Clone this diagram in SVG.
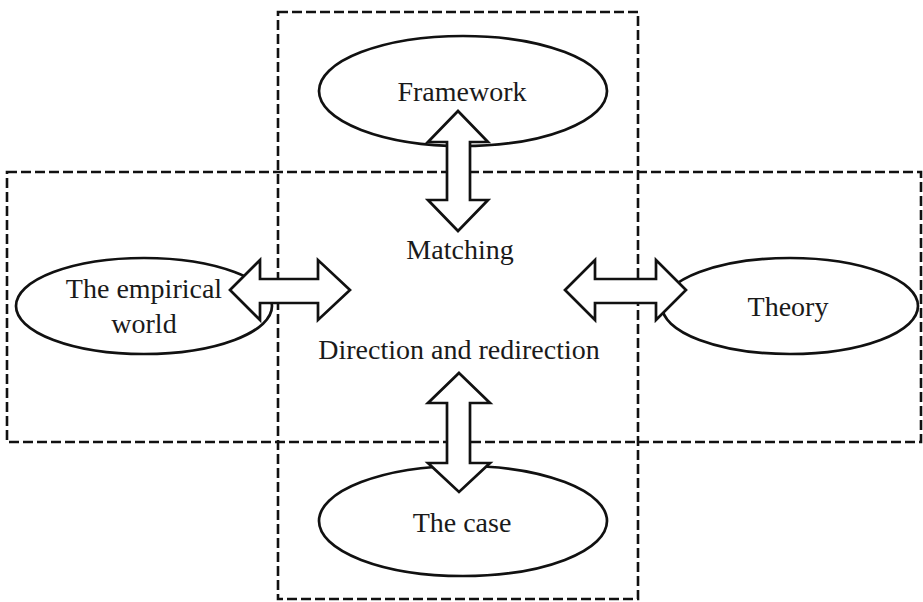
<svg xmlns="http://www.w3.org/2000/svg" width="923" height="602" viewBox="0 0 923 602">
  <style>
    .frame { fill: none; stroke: #111; stroke-width: 2.6; stroke-dasharray: 10 4; }
    .node { fill: #fff; stroke: #111; stroke-width: 2.7; }
    .arrow { fill: #fff; stroke: #111; stroke-width: 2.7; stroke-linejoin: miter; }
    .label { font-family: "Liberation Serif", "Times New Roman", serif; font-size: 28px; fill: #1a1a1a; text-anchor: middle; }
  </style>
  <rect width="923" height="602" fill="#fff"/>

  <!-- dashed frames: vertical and horizontal bands -->
  <g id="frames">
    <rect class="frame" x="278" y="12" width="360" height="587"/>
    <rect class="frame" x="7" y="172" width="914" height="270"/>
  </g>

  <!-- centre labels -->
  <g id="centre">
    <text class="label" x="460" y="259">Matching</text>
    <text class="label" x="459" y="359">Direction and redirection</text>
  </g>

  <g id="framework">
    <ellipse class="node" cx="463" cy="91" rx="144" ry="55"/>
    <text class="label" x="462" y="101">Framework</text>
  </g>

  <g id="case">
    <ellipse class="node" cx="463" cy="521" rx="144" ry="55"/>
    <text class="label" x="462" y="532">The case</text>
  </g>

  <g id="empirical">
    <ellipse class="node" cx="144" cy="306" rx="128" ry="48"/>
    <text class="label" x="144" y="298">The empirical</text>
    <text class="label" x="144" y="333">world</text>
  </g>

  <g id="theory">
    <ellipse class="node" cx="790" cy="306" rx="128" ry="48"/>
    <text class="label" x="788" y="316">Theory</text>
  </g>

  <!-- double-headed block arrows -->
  <g id="connectors">
    <polygon class="arrow" points="458,111 488,142 470,142 470,200 488,200 458,231 428,200 447,200 447,142 428,142"/>
    <polygon class="arrow" points="459,373 490,403 470,403 470,463 490,463 459,492 428,463 447,463 447,403 428,403"/>
    <polygon class="arrow" points="230,290 260,260 260,279 318,279 318,260 350,290 318,320 318,303 260,303 260,320"/>
    <polygon class="arrow" points="565,290 595,260 595,279 656,279 656,260 686,290 656,320 656,303 595,303 595,320"/>
  </g>
</svg>
